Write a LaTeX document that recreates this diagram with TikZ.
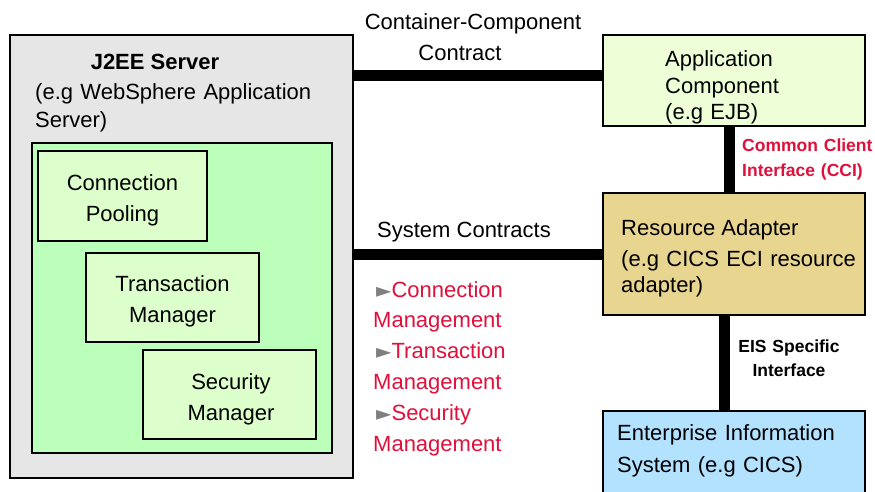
\documentclass[tikz,border=0pt]{standalone}
\usepackage{fontspec}
\setmainfont{Liberation Sans}
\newfontfamily\symfont{DejaVu Sans}
\definecolor{srvgray}{HTML}{E6E6E6}
\definecolor{contgreen}{HTML}{BBFFBB}
\definecolor{partgreen}{HTML}{DDFFCC}
\definecolor{appfill}{HTML}{EEFFD8}
\definecolor{rafill}{HTML}{E8D590}
\definecolor{eisfill}{HTML}{B3E2FF}
\definecolor{mgmtred}{HTML}{E0103C}
\definecolor{bulletgray}{HTML}{808080}
\newcommand{\bulletmark}{\hspace*{3pt}{\symfont\fontsize{20}{20}\selectfont\color{bulletgray}►}}
\begin{document}
\begin{tikzpicture}[x=1pt,y=-1pt,
  box/.style={draw=black, line width=2.5pt, inner sep=0pt, outer sep=0pt, anchor=north west},
  bar/.style={line width=11pt},
  lbl/.style={inner sep=0pt, anchor=base west, align=left, font=\fontsize{22}{27.5}\selectfont},
  ctr/.style={inner sep=0pt, anchor=base, align=center, font=\fontsize{22}{31}\selectfont},
  small/.style={inner sep=0pt, font=\bfseries\fontsize{17.5}{25}\selectfont}]
\clip (0,0) rectangle (875,492);
\fill[white] (0,0) rectangle (875,492);

% J2EE server and its services
\node[box, fill=srvgray, line width=2pt, minimum width=343, minimum height=443] (j2ee) at (10,35) {};
\node[box, fill=contgreen, minimum width=300, minimum height=310] (cont) at (32,143) {};
\node[box, fill=partgreen, minimum width=169, minimum height=90] (pool) at (38,151) {};
\node[box, fill=partgreen, minimum width=173, minimum height=89] (tm) at (86,253) {};
\node[box, fill=partgreen, minimum width=173, minimum height=89] (sm) at (143,350) {};

% right-hand column
\node[box, fill=appfill, minimum width=262, minimum height=91] (app) at (603,35) {};
\node[box, fill=rafill, minimum width=262, minimum height=122] (ra) at (603,193) {};
\node[box, fill=eisfill, minimum width=262, minimum height=100] (eis) at (603,411) {};

% contracts
\coordinate (ccy) at (0,75.5);
\coordinate (scy) at (0,254);
\coordinate (ccix) at (729,0);
\coordinate (eisx) at (724,0);
\draw[bar] (ccy -| j2ee.east) -- (ccy -| app.west);
\draw[bar] (scy -| j2ee.east) -- (scy -| ra.west);
\draw[bar] (ccix |- app.south) -- (ccix |- ra.north);
\draw[bar] (eisx |- ra.south) -- (eisx |- eis.north);

% texts
\node[inner sep=0pt, anchor=base, font=\bfseries\fontsize{22}{27.5}\selectfont] (j2eet) at (155,70) {J2EE Server};
\node[lbl, text width=300] (j2eesub) at (35,100) {(e.g WebSphere Application\\Server)};
\node[ctr, text width=160] (poolt) at (122.5,190) {Connection\\Pooling};
\node[ctr, text width=160] (tmt) at (172.5,291) {Transaction\\Manager};
\node[ctr, text width=160] (smt) at (231,389) {Security\\Manager};

\node[lbl, text width=180, font=\fontsize{22}{26.5}\selectfont] (appt) at (665,67) {Application\\Component\\(e.g EJB)};
\node[lbl] (rat) at (621,235) {Resource Adapter};
\node[lbl, text width=240, font=\fontsize{22}{26}\selectfont] (rasub) at (621,266) {(e.g CICS ECI resource\\adapter)};
\node[lbl, text width=245, font=\fontsize{22}{32.5}\selectfont] (eist) at (617,440) {Enterprise Information\\System (e.g CICS)};

\node[ctr] (cct1) at (473,30) {Container-Component};
\node[ctr] (cct2) at (460,61) {Contract};
\node[lbl] (sct) at (377,237) {System Contracts};
\node[lbl, text width=160, text=mgmtred, font=\fontsize{22}{30.8}\selectfont] (scl) at (373,297)
  {\bulletmark Connection\\Management\\\bulletmark Transaction\\Management\\\bulletmark Security\\Management};

\node[small, anchor=base west, align=left, text width=135, text=mgmtred] (ccit) at (742,151.7) {Common Client\\Interface (CCI)};
\node[small, anchor=base, align=center, text width=120, font=\bfseries\fontsize{17.5}{24}\selectfont] (eisi) at (789,352.7) {EIS Specific\\Interface};
\end{tikzpicture}
\end{document}
